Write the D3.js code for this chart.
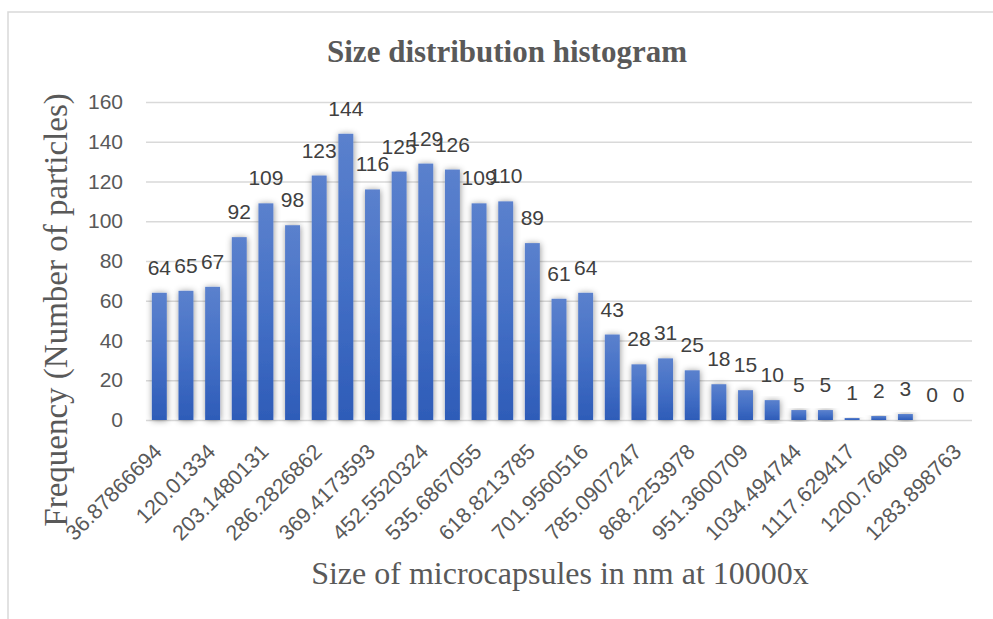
<!DOCTYPE html>
<html>
<head>
<meta charset="utf-8">
<style>
body { margin: 0; background: #fff; }
.grid line { stroke: #d9d9d9; stroke-width: 1.5; }
.grid path { display: none; }
.axis path { display: none; }
.axis line { display: none; }
</style>
</head>
<body>
<svg width="993" height="619"></svg>
<script src="https://cdn.jsdelivr.net/npm/d3@7"></script>
<script>

// bin centres (nm), every other one is labelled on the axis
var categories = ["36.87866694", "78.44600347", "120.01334", "161.5806765", "203.1480131",
  "244.7153496", "286.2826862", "327.8500227", "369.4173593", "410.9846958", "452.5520324",
  "494.1193689", "535.6867055", "577.254042", "618.8213785", "660.3887151", "701.9560516",
  "743.5233882", "785.0907247", "826.6580613", "868.2253978", "909.7927344", "951.3600709",
  "992.9274075", "1034.494744", "1076.062081", "1117.629417", "1159.196754", "1200.76409",
  "1242.331427", "1283.898763"];

var frequency = [64, 65, 67, 92, 109, 98, 123, 144, 116, 125, 129, 126, 109, 110, 89,
  61, 64, 43, 28, 31, 25, 18, 15, 10, 5, 5, 1, 2, 3, 0, 0];

var tickLabels = ["36.87866694", "120.01334", "203.1480131", "286.2826862", "369.4173593",
  "452.5520324", "535.6867055", "618.8213785", "701.9560516", "785.0907247", "868.2253978",
  "951.3600709", "1034.494744", "1117.629417", "1200.76409", "1283.898763"];

var yTicks = [0, 20, 40, 60, 80, 100, 120, 140, 160];

var svg = d3.select("svg"),
    plot = {left: 146, right: 972, top: 102, bottom: 420};

var sans = "'Liberation Sans', Arial, sans-serif",
    serif = "'Liberation Serif', 'Times New Roman', serif";

// chart frame
svg.append("rect")
    .attr("x", 8).attr("y", 12)
    .attr("width", 1100).attr("height", 700)
    .attr("fill", "none")
    .attr("stroke", "#d9d9d9")
    .attr("stroke-width", 1.5);

var defs = svg.append("defs");

var grad = defs.append("linearGradient")
    .attr("id", "barGrad")
    .attr("x1", 0).attr("y1", 0).attr("x2", 0).attr("y2", 1);
grad.append("stop").attr("offset", "0%").attr("stop-color", "#5b81cd");
grad.append("stop").attr("offset", "50%").attr("stop-color", "#4470c6");
grad.append("stop").attr("offset", "100%").attr("stop-color", "#2e5cb8");

var shadow = defs.append("filter")
    .attr("id", "shadow")
    .attr("x", "-100%").attr("y", "-20%")
    .attr("width", "300%").attr("height", "140%");
shadow.append("feDropShadow")
    .attr("dx", 0.5).attr("dy", 0.5)
    .attr("stdDeviation", 3.2)
    .attr("flood-color", "#000")
    .attr("flood-opacity", 0.42);

var x = d3.scaleBand()
    .domain(categories)
    .range([plot.left, plot.right])
    .paddingInner(0.44)
    .paddingOuter(0.22);

var y = d3.scaleLinear()
    .domain([0, 160])
    .range([plot.bottom, plot.top]);

// gridlines
svg.append("g")
    .attr("class", "grid")
    .attr("transform", "translate(" + plot.left + ",0)")
    .call(d3.axisLeft(y).tickValues(yTicks).tickSize(-(plot.right - plot.left)).tickFormat(""));

// y tick labels
svg.append("g")
    .attr("class", "axis")
    .attr("transform", "translate(" + (plot.left - 23) + ",0)")
    .call(d3.axisLeft(y).tickValues(yTicks).tickSize(0).tickPadding(0))
    .selectAll("text")
      .attr("font-family", sans)
      .attr("font-size", "21px")
      .attr("fill", "#595959");

// bars
svg.append("g")
    .selectAll("rect")
    .data(frequency)
    .enter().append("rect")
      .attr("x", function(d, i) { return x(categories[i]); })
      .attr("y", function(d) { return y(d); })
      .attr("width", x.bandwidth())
      .attr("height", function(d) { return y(0) - y(d); })
      .attr("fill", "url(#barGrad)")
      .attr("filter", "url(#shadow)");

// data labels
svg.append("g")
    .selectAll("text")
    .data(frequency)
    .enter().append("text")
      .attr("x", function(d, i) { return x(categories[i]) + x.bandwidth() / 2; })
      .attr("y", function(d) { return y(d) - 18; })
      .attr("text-anchor", "middle")
      .attr("font-family", sans)
      .attr("font-size", "21px")
      .attr("fill", "#404040")
      .text(function(d) { return d; });

// x tick labels, rotated
var xAxis = svg.append("g")
    .attr("class", "axis")
    .attr("transform", "translate(0," + plot.bottom + ")")
    .call(d3.axisBottom(x).tickValues(tickLabels).tickSize(0));

xAxis.selectAll("text")
    .attr("font-family", sans)
    .attr("font-size", "21.5px")
    .attr("fill", "#595959")
    .attr("text-anchor", "end")
    .attr("dy", null)
    .attr("y", 0)
    .attr("transform", "translate(4,33) rotate(-45)");

// titles
svg.append("text")
    .attr("x", 507).attr("y", 62)
    .attr("text-anchor", "middle")
    .attr("font-family", serif)
    .attr("font-weight", "bold")
    .attr("font-size", "31px")
    .attr("fill", "#595959")
    .text("Size distribution histogram");

svg.append("text")
    .attr("transform", "translate(67,310) rotate(-90)")
    .attr("text-anchor", "middle")
    .attr("font-family", serif)
    .attr("font-size", "33px")
    .attr("fill", "#595959")
    .text("Frequency (Number of particles)");

svg.append("text")
    .attr("x", 560).attr("y", 584)
    .attr("text-anchor", "middle")
    .attr("font-family", serif)
    .attr("font-size", "32px")
    .attr("fill", "#595959")
    .text("Size of microcapsules in nm at 10000x");

</script>
</body>
</html>
